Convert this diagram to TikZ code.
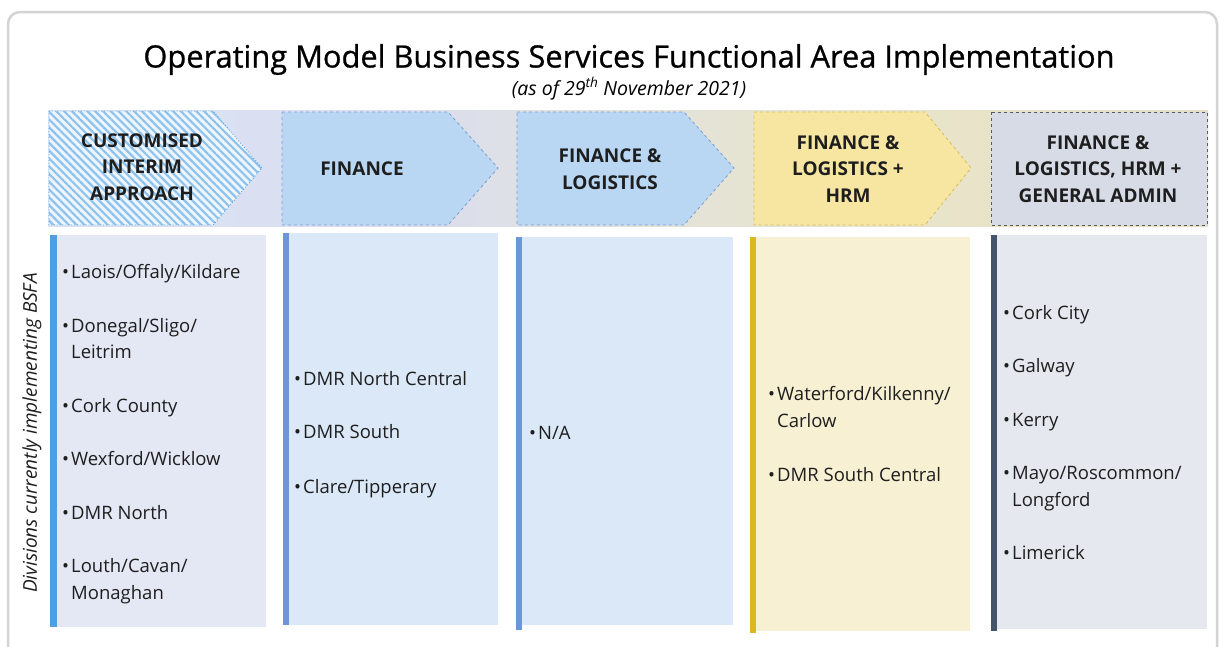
\documentclass[tikz,border=0pt]{standalone}
\usepackage{fontspec}
\setmainfont{Open Sans}
\newfontfamily\titlefont{Open Sans}[FakeBold=0.8]
\usetikzlibrary{patterns.meta,shadings}

\definecolor{framegray}{HTML}{D4D4D4}
\definecolor{bandA}{HTML}{DCE7F4}
\definecolor{bandB}{HTML}{DDE6F5}
\definecolor{bandC}{HTML}{D9DEF1}
\definecolor{bandD}{HTML}{E9E5C9}
\definecolor{bandE}{HTML}{E3DDC8}
\definecolor{bandF}{HTML}{D9DDE6}
\definecolor{hatchbg}{HTML}{EEF5FC}
\definecolor{hatchfg}{HTML}{8EC3EE}
\definecolor{hatchbd}{HTML}{5BA5E3}
\definecolor{bluefill}{HTML}{B9D6F2}
\definecolor{bluebd}{HTML}{7A9FD6}
\definecolor{yelfill}{HTML}{F6E6A2}
\definecolor{yelbd}{HTML}{D9BC55}
\definecolor{grayfill}{HTML}{D6DBE6}
\definecolor{graybd}{HTML}{5A5A5A}
\definecolor{colAfill}{HTML}{E4E8F5}
\definecolor{colAbar}{HTML}{4FA0E2}
\definecolor{colBfill}{HTML}{DAE8F7}
\definecolor{colBbar}{HTML}{6C96DA}
\definecolor{colDfill}{HTML}{F8F0D3}
\definecolor{colDbar}{HTML}{DDB624}
\definecolor{colEfill}{HTML}{E5E8EF}
\definecolor{colEbar}{HTML}{44546A}
\definecolor{txt}{HTML}{1E1E1E}

\pgfdeclarehorizontalshading{bandshade}{100bp}{color(0bp)=(bandA); color(20bp)=(bandB); color(39bp)=(bandC); color(60bp)=(bandD); color(80bp)=(bandE); color(100bp)=(bandF)}

\newcommand{\bul}{\makebox[9pt][l]{\textbullet}}

\tikzset{
  hdr/.style={font=\bfseries\fontsize{19}{26.5}\selectfont, text=txt, align=center, inner sep=0pt},
  itm/.style={font=\fontsize{18.5}{26}\selectfont, text=txt, anchor=base west, inner sep=0pt},
  bluechev/.style={fill=bluefill, draw=bluebd, dashed, line width=0.8pt},
}

\begin{document}
\begin{tikzpicture}[x=1pt,y=-1pt]
\useasboundingbox (0,0) rectangle (1220,646);
\fill[white] (0,0) rectangle (1220,646);
\draw[framegray, line width=2.5pt, rounded corners=12pt] (8,650) -- (8,12) -- (1217,12) -- (1217,650);

% title
\node[font=\titlefont\fontsize{30.8}{38}\selectfont, text=black, anchor=base, inner sep=0pt] (title) at (629,67.5) {Operating Model Business Services Functional Area Implementation};
\node[font=\itshape\fontsize{19.5}{23}\selectfont, text=black, anchor=base, inner sep=0pt] (subtitle) at (629,95) {(as of 29\textsuperscript{th} November 2021)};

% band
\shade[shading=bandshade] (48,110) rectangle (1208,226);

% chevron 1 (hatched)
\fill[hatchbg] (49,111) -- (213,111) -- (262,168) -- (213,225) -- (49,225) -- cycle;
\fill[pattern={Lines[angle=-45,distance=5.5pt,line width=2.2pt]}, pattern color=hatchfg] (49,111) -- (213,111) -- (262,168) -- (213,225) -- (49,225) -- cycle;
\draw[hatchbd, dotted, line width=0.9pt] (49,111) -- (213,111) -- (262,168) -- (213,225) -- (49,225) -- cycle;
% chevron 2
\draw[bluechev] (282,112) -- (448,112) -- (498,168) -- (448,225) -- (282,225) -- cycle;
% chevron 3
\draw[bluechev] (517,112) -- (684,112) -- (734,168) -- (684,225) -- (517,225) -- cycle;
% chevron 4
\draw[fill=yelfill, draw=yelbd, dashed, line width=0.8pt] (754,112) -- (925,112) -- (971,168) -- (925,225) -- (754,225) -- cycle;
% rect 5
\draw[fill=grayfill, draw=graybd, dashed, line width=0.8pt] (991,112) rectangle (1207,225);

\node[hdr] (h1) at (142,167) {CUSTOMISED\\INTERIM\\APPROACH};
\node[hdr] (h2) at (362,169) {FINANCE};
\node[hdr] (h3) at (610,169) {FINANCE \&\\LOGISTICS};
\node[hdr] (h4) at (848,169) {FINANCE \&\\LOGISTICS +\\HRM};
\node[hdr] (h5) at (1098,169) {FINANCE \&\\LOGISTICS, HRM +\\GENERAL ADMIN};

% columns
\fill[colAfill] (50,235) rectangle (266,627);
\fill[colAbar] (50,235) rectangle (57,627);
\fill[colBfill] (283,233) rectangle (498,625);
\fill[colBbar] (283,233) rectangle (289,625);
\fill[colBfill] (516,237) rectangle (733,625);
\fill[colBbar] (516,237) rectangle (522,630);
\fill[colDfill] (750,237) rectangle (970,631);
\fill[colDbar] (750,237) rectangle (756,633);
\fill[colEfill] (991,235) rectangle (1207,629);
\fill[colEbar] (991,235) rectangle (997,631);

% side label
\node[font=\itshape\fontsize{19}{22}\selectfont, text=txt, rotate=90, inner sep=0pt] (side) at (32,433) {Divisions currently implementing BSFA};

% column 1
\node[itm] (a1) at (62,278) {\bul Laois/Offaly/Kildare};
\node[itm] (a2) at (62,332) {\bul Donegal/Sligo/};
\node[itm] (a2b) at (71,358) {Leitrim};
\node[itm] (a3) at (62,412) {\bul Cork County};
\node[itm] (a4) at (62,465) {\bul Wexford/Wicklow};
\node[itm] (a5) at (62,519) {\bul DMR North};
\node[itm] (a6) at (62,572) {\bul Louth/Cavan/};
\node[itm] (a6b) at (71,599) {Monaghan};
% column 2
\node[itm] (b1) at (294,385) {\bul DMR North Central};
\node[itm] (b2) at (294,438) {\bul DMR South};
\node[itm] (b3) at (294,493) {\bul Clare/Tipperary};
% column 3
\node[itm] (c1) at (529,439) {\bul N/A};
% column 4
\node[itm] (d1) at (768,400) {\bul Waterford/Kilkenny/};
\node[itm] (d1b) at (777,427) {Carlow};
\node[itm] (d2) at (768,481) {\bul DMR South Central};
% column 5
\node[itm] (e1) at (1003,319) {\bul Cork City};
\node[itm] (e2) at (1003,372) {\bul Galway};
\node[itm] (e3) at (1003,426) {\bul Kerry};
\node[itm] (e4) at (1003,479) {\bul Mayo/Roscommon/};
\node[itm] (e4b) at (1012,506) {Longford};
\node[itm] (e5) at (1003,559) {\bul Limerick};
\end{tikzpicture}
\end{document}
